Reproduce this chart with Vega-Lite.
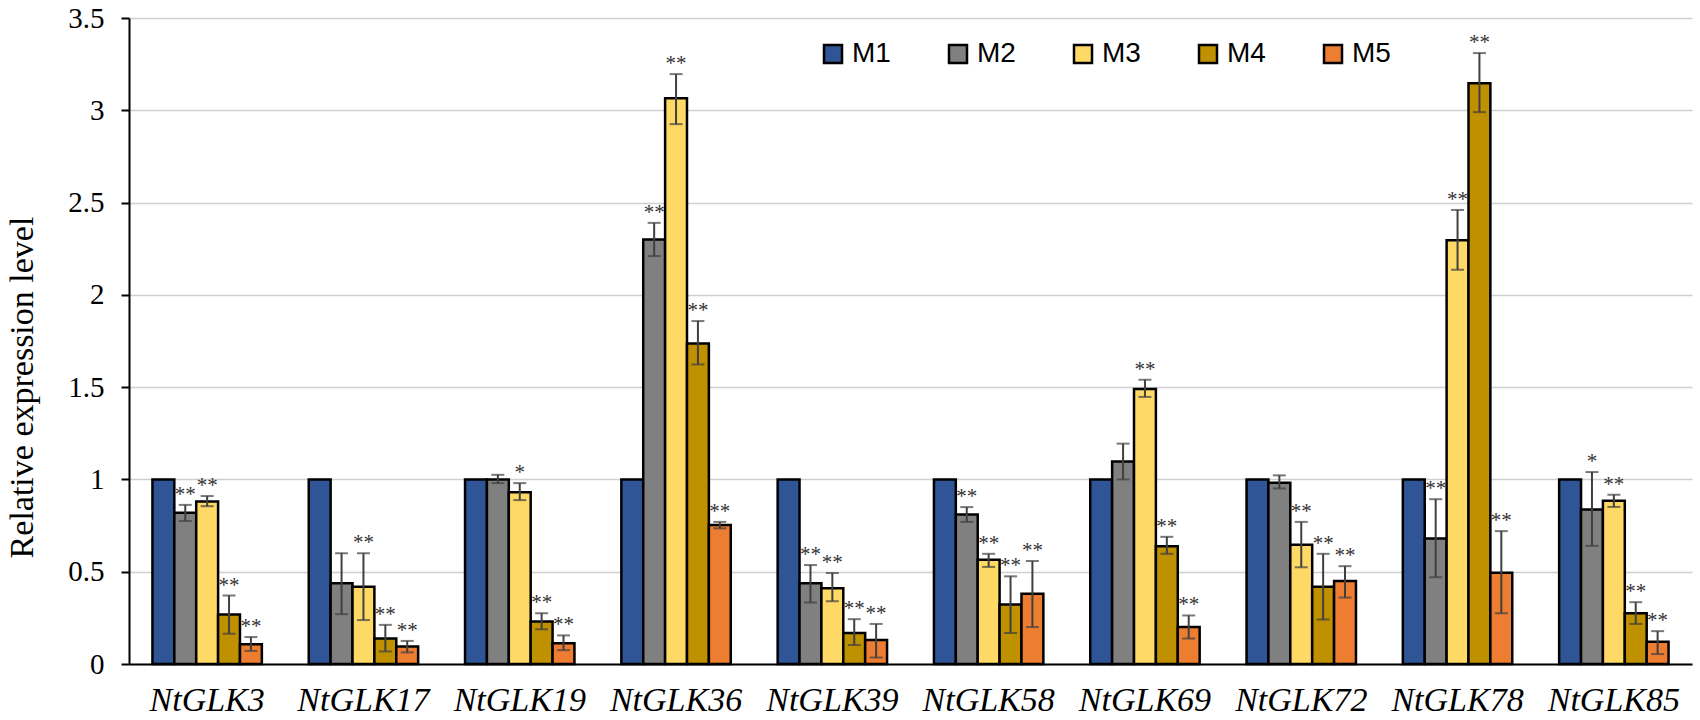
{
  "$schema": "https://vega.github.io/schema/vega-lite/v6.json",
  "width": 1563,
  "height": 646,
  "autosize": {"type": "none"},
  "padding": {"left": 129, "top": 18, "right": 8, "bottom": 56},
  "background": "white",
  "config": {
    "view": {"stroke": null},
    "font": "Liberation Serif"
  },
  "data": {
    "values": [
      {"gene": "NtGLK3", "group": "M1", "value": 1.0, "lo": null, "hi": null, "sig": ""},
      {"gene": "NtGLK3", "group": "M2", "value": 0.82, "lo": 0.775, "hi": 0.862, "sig": "**"},
      {"gene": "NtGLK3", "group": "M3", "value": 0.88, "lo": 0.855, "hi": 0.91, "sig": "**"},
      {"gene": "NtGLK3", "group": "M4", "value": 0.268, "lo": 0.164, "hi": 0.371, "sig": "**"},
      {"gene": "NtGLK3", "group": "M5", "value": 0.107, "lo": 0.071, "hi": 0.146, "sig": "**"},
      {"gene": "NtGLK17", "group": "M1", "value": 1.0, "lo": null, "hi": null, "sig": ""},
      {"gene": "NtGLK17", "group": "M2", "value": 0.437, "lo": 0.27, "hi": 0.6, "sig": ""},
      {"gene": "NtGLK17", "group": "M3", "value": 0.418, "lo": 0.238, "hi": 0.6, "sig": "**"},
      {"gene": "NtGLK17", "group": "M4", "value": 0.138, "lo": 0.068, "hi": 0.212, "sig": "**"},
      {"gene": "NtGLK17", "group": "M5", "value": 0.095, "lo": 0.063, "hi": 0.125, "sig": "**"},
      {"gene": "NtGLK19", "group": "M1", "value": 1.0, "lo": null, "hi": null, "sig": ""},
      {"gene": "NtGLK19", "group": "M2", "value": 1.0, "lo": 0.98, "hi": 1.025, "sig": ""},
      {"gene": "NtGLK19", "group": "M3", "value": 0.93, "lo": 0.888, "hi": 0.98, "sig": "*"},
      {"gene": "NtGLK19", "group": "M4", "value": 0.23, "lo": 0.188, "hi": 0.275, "sig": "**"},
      {"gene": "NtGLK19", "group": "M5", "value": 0.113, "lo": 0.075, "hi": 0.155, "sig": "**"},
      {"gene": "NtGLK36", "group": "M1", "value": 1.0, "lo": null, "hi": null, "sig": ""},
      {"gene": "NtGLK36", "group": "M2", "value": 2.3, "lo": 2.21, "hi": 2.39, "sig": "**"},
      {"gene": "NtGLK36", "group": "M3", "value": 3.065, "lo": 2.925, "hi": 3.196, "sig": "**"},
      {"gene": "NtGLK36", "group": "M4", "value": 1.737, "lo": 1.623, "hi": 1.858, "sig": "**"},
      {"gene": "NtGLK36", "group": "M5", "value": 0.753, "lo": 0.735, "hi": 0.77, "sig": "**"},
      {"gene": "NtGLK39", "group": "M1", "value": 1.0, "lo": null, "hi": null, "sig": ""},
      {"gene": "NtGLK39", "group": "M2", "value": 0.437, "lo": 0.333, "hi": 0.536, "sig": "**"},
      {"gene": "NtGLK39", "group": "M3", "value": 0.411, "lo": 0.34, "hi": 0.493, "sig": "**"},
      {"gene": "NtGLK39", "group": "M4", "value": 0.168, "lo": 0.103, "hi": 0.243, "sig": "**"},
      {"gene": "NtGLK39", "group": "M5", "value": 0.13, "lo": 0.035, "hi": 0.217, "sig": "**"},
      {"gene": "NtGLK58", "group": "M1", "value": 1.0, "lo": null, "hi": null, "sig": ""},
      {"gene": "NtGLK58", "group": "M2", "value": 0.81, "lo": 0.77, "hi": 0.85, "sig": "**"},
      {"gene": "NtGLK58", "group": "M3", "value": 0.565, "lo": 0.526, "hi": 0.597, "sig": "**"},
      {"gene": "NtGLK58", "group": "M4", "value": 0.322, "lo": 0.168, "hi": 0.475, "sig": "**"},
      {"gene": "NtGLK58", "group": "M5", "value": 0.38, "lo": 0.2, "hi": 0.558, "sig": "**"},
      {"gene": "NtGLK69", "group": "M1", "value": 1.0, "lo": null, "hi": null, "sig": ""},
      {"gene": "NtGLK69", "group": "M2", "value": 1.097, "lo": 1.0, "hi": 1.194, "sig": ""},
      {"gene": "NtGLK69", "group": "M3", "value": 1.49, "lo": 1.447, "hi": 1.54, "sig": "**"},
      {"gene": "NtGLK69", "group": "M4", "value": 0.638, "lo": 0.597, "hi": 0.689, "sig": "**"},
      {"gene": "NtGLK69", "group": "M5", "value": 0.2, "lo": 0.138, "hi": 0.263, "sig": "**"},
      {"gene": "NtGLK72", "group": "M1", "value": 1.0, "lo": null, "hi": null, "sig": ""},
      {"gene": "NtGLK72", "group": "M2", "value": 0.982, "lo": 0.951, "hi": 1.022, "sig": ""},
      {"gene": "NtGLK72", "group": "M3", "value": 0.646, "lo": 0.524, "hi": 0.77, "sig": "**"},
      {"gene": "NtGLK72", "group": "M4", "value": 0.419, "lo": 0.241, "hi": 0.597, "sig": "**"},
      {"gene": "NtGLK72", "group": "M5", "value": 0.45, "lo": 0.36, "hi": 0.53, "sig": "**"},
      {"gene": "NtGLK78", "group": "M1", "value": 1.0, "lo": null, "hi": null, "sig": ""},
      {"gene": "NtGLK78", "group": "M2", "value": 0.68, "lo": 0.47, "hi": 0.893, "sig": "**"},
      {"gene": "NtGLK78", "group": "M3", "value": 2.296, "lo": 2.136, "hi": 2.46, "sig": "**"},
      {"gene": "NtGLK78", "group": "M4", "value": 3.146, "lo": 2.99, "hi": 3.31, "sig": "**"},
      {"gene": "NtGLK78", "group": "M5", "value": 0.495, "lo": 0.275, "hi": 0.72, "sig": "**"},
      {"gene": "NtGLK85", "group": "M1", "value": 1.0, "lo": null, "hi": null, "sig": ""},
      {"gene": "NtGLK85", "group": "M2", "value": 0.837, "lo": 0.64, "hi": 1.04, "sig": "*"},
      {"gene": "NtGLK85", "group": "M3", "value": 0.884, "lo": 0.851, "hi": 0.917, "sig": "**"},
      {"gene": "NtGLK85", "group": "M4", "value": 0.275, "lo": 0.217, "hi": 0.335, "sig": "**"},
      {"gene": "NtGLK85", "group": "M5", "value": 0.121, "lo": 0.054, "hi": 0.178, "sig": "**"}
    ]
  },
  "encoding": {
    "x": {
      "field": "gene",
      "type": "nominal",
      "sort": null,
      "title": null,
      "scale": {"paddingInner": 0.3, "paddingOuter": 0.15},
      "axis": {
        "labelAngle": 0,
        "labelFont": "Liberation Serif",
        "labelFontStyle": "italic",
        "labelFontSize": 34,
        "labelColor": "black",
        "labelPadding": 19,
        "ticks": false,
        "domainColor": "black",
        "domainWidth": 2,
        "grid": false
      }
    },
    "xOffset": {
      "field": "group",
      "type": "nominal",
      "scale": {"paddingInner": 0, "paddingOuter": 0}
    }
  },
  "layer": [
    {
      "mark": {"type": "bar", "stroke": "black", "strokeWidth": 2.5},
      "encoding": {
        "y": {
          "field": "value",
          "type": "quantitative",
          "title": "Relative expression level",
          "scale": {"domain": [0, 3.5], "nice": false},
          "axis": {
            "values": [0, 0.5, 1, 1.5, 2, 2.5, 3, 3.5],
            "format": "~g",
            "labelFont": "Liberation Serif",
            "labelFontSize": 29,
            "labelColor": "black",
            "labelPadding": 17,
            "tickSize": 8,
            "tickColor": "black",
            "tickWidth": 2,
            "domainColor": "black",
            "domainWidth": 2,
            "gridColor": "#cfcfcf",
            "gridWidth": 1.5,
            "titleFont": "Liberation Serif",
            "titleFontSize": 34,
            "titleFontWeight": "normal",
            "titleColor": "black",
            "titleAngle": -90,
            "titleX": -107,
            "titleY": 369,
            "titleAlign": "center",
            "titleBaseline": "middle"
          }
        },
        "color": {
          "field": "group",
          "type": "nominal",
          "scale": {
            "domain": ["M1", "M2", "M3", "M4", "M5"],
            "range": ["#2F5597", "#808080", "#FFD966", "#BF9000", "#ED7D31"]
          },
          "legend": {
            "title": null,
            "orient": "none",
            "legendX": 690,
            "legendY": 22,
            "direction": "horizontal",
            "columns": 5,
            "symbolType": "square",
            "symbolSize": 324,
            "symbolStrokeColor": "black",
            "symbolStrokeWidth": 2.5,
            "labelFont": "Liberation Sans",
            "labelFontSize": 28,
            "labelColor": "black",
            "labelOffset": 5,
            "columnPadding": 53,
            "padding": 0
          }
        }
      }
    },
    {
      "transform": [{"filter": "datum.hi != null"}],
      "mark": {"type": "rule", "color": "#404040", "strokeWidth": 2},
      "encoding": {
        "y": {"field": "lo", "type": "quantitative"},
        "y2": {"field": "hi"}
      }
    },
    {
      "transform": [{"filter": "datum.hi != null"}],
      "mark": {"type": "tick", "color": "#404040", "thickness": 2, "size": 13},
      "encoding": {
        "y": {"field": "hi", "type": "quantitative"}
      }
    },
    {
      "transform": [{"filter": "datum.hi != null"}],
      "mark": {"type": "tick", "color": "#404040", "thickness": 2, "size": 13},
      "encoding": {
        "y": {"field": "lo", "type": "quantitative"}
      }
    },
    {
      "transform": [{"filter": "datum.sig != ''"}],
      "mark": {
        "type": "text",
        "font": "Liberation Serif",
        "fontSize": 21,
        "color": "#333333",
        "baseline": "alphabetic",
        "dy": -4
      },
      "encoding": {
        "y": {"field": "hi", "type": "quantitative"},
        "text": {"field": "sig"}
      }
    }
  ]
}
